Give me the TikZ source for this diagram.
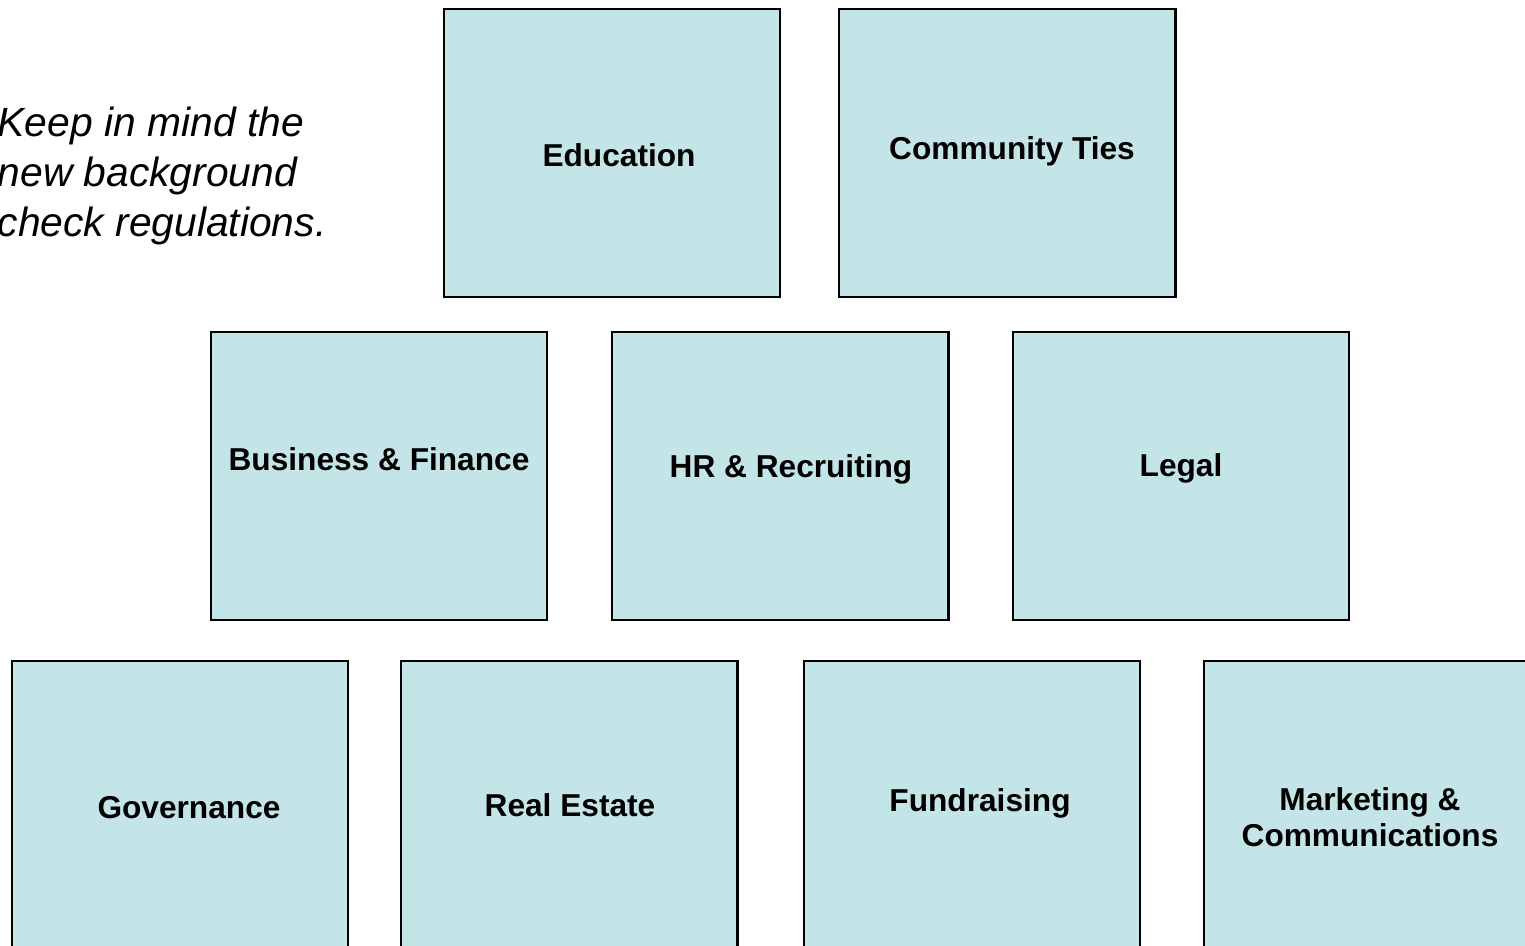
\documentclass[tikz,border=0pt]{standalone}
\usepackage{fontspec}
\setmainfont{Liberation Sans}
\usetikzlibrary{positioning}
\definecolor{boxblue}{RGB}{196,229,232}

\begin{document}
\begin{tikzpicture}[x=0.01cm,y=-0.01cm,node distance=0.57cm,
area/.style={rectangle, draw, line width=0.6pt, fill=boxblue, minimum width=3.36cm, minimum height=2.88cm, inner sep=0pt},
lbl/.style={font=\fontsize{9}{10.3}\selectfont\bfseries, align=center, inner sep=0pt, anchor=base}] % area = one committee box, lbl = its bold title
\useasboundingbox (0,0) rectangle (1525,945);

% top row
\node[area](edu) at (612,153){};
\node[area](comm)[right=of edu]{};
% middle row
\node[area](bus) at (379,476){};
\node[area](hr)[right=0.63cm of bus]{};
\node[area](legal)[right=0.62cm of hr]{};
% bottom row, runs off the page
\node[area](gov) at (180,805){};
\node[area](real)[right=0.51cm of gov]{};
\node[area](fund)[right=0.64cm of real]{};
\node[area](mark)[right=0.62cm of fund]{};

% titles
\node[lbl](eduT) at (619,166){Education};
\node[lbl](commT) at (1012,159){Community Ties};
\node[lbl](busT) at (379,470){Business \& Finance};
\node[lbl](hrT) at (791,477){HR \& Recruiting};
\node[lbl](legalT) at (1181,476){Legal};
\node[lbl](govT) at (189,818){Governance};
\node[lbl](realT) at (570,816){Real Estate};
\node[lbl](fundT) at (980,811){Fundraising};
\node[lbl,anchor=north](markT) at (1370,787){Marketing \&\\Communications};

% note at the left edge (base = last line)
\node[font=\fontsize{11.6}{14.2}\selectfont\itshape, align=left, inner sep=0pt, anchor=base west](note) at (-3,236){Keep in mind the\\new background\\check regulations.};
\end{tikzpicture}
\end{document}
